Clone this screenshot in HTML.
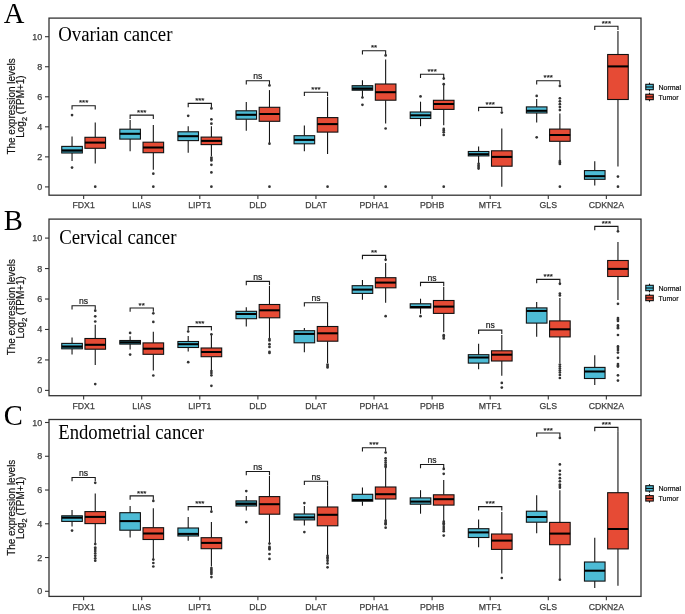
<!DOCTYPE html>
<html><head><meta charset="utf-8"><title>Expression boxplots</title><style>
html,body{margin:0;padding:0;background:#fff;}
svg{display:block;will-change:transform;}
text{font-family:"Liberation Sans",sans-serif;}
.frame{fill:none;stroke:#333;stroke-width:1.3;}
.tk{stroke:#333;stroke-width:1.1;}
.tl{font-size:8.7px;fill:#404040;stroke:#404040;stroke-width:0.25px;}
.yt{font-size:9px;fill:#404040;stroke:#404040;stroke-width:0.25px;}
.w{stroke:#141414;stroke-width:1.1;}
.b{stroke:#111;stroke-width:1.1;}
.m{stroke:#000;stroke-width:2.05;}
.lm{stroke:#000;stroke-width:1;}
.o{fill:#333;}
.br{fill:none;stroke:#1a1a1a;stroke-width:1.1;}
.sig{font-size:8.6px;fill:#1a1a1a;stroke:#1a1a1a;stroke-width:0.2px;}
.sig.st{font-size:8px;}
.title{font-family:"Liberation Serif",serif;font-size:20px;fill:#000;}
.letter{font-family:"Liberation Serif",serif;font-size:28.6px;fill:#000;}
.yl{font-size:10.6px;fill:#111;stroke:#111;stroke-width:0.2px;}
.lg{font-size:7px;fill:#111;stroke:#111;stroke-width:0.2px;}
</style></head>
<body><svg width="685" height="614" viewBox="0 0 685 614">
<rect width="685" height="614" fill="#fff"/>
<rect x="49" y="18.1" width="592" height="177.1" class="frame"/>
<line x1="45" y1="186.9" x2="49" y2="186.9" class="tk"/>
<text x="42.35" y="189.9" class="yt" text-anchor="end">0</text>
<line x1="45" y1="156.86" x2="49" y2="156.86" class="tk"/>
<text x="42.35" y="159.86" class="yt" text-anchor="end">2</text>
<line x1="45" y1="126.82" x2="49" y2="126.82" class="tk"/>
<text x="42.35" y="129.82" class="yt" text-anchor="end">4</text>
<line x1="45" y1="96.78" x2="49" y2="96.78" class="tk"/>
<text x="42.35" y="99.78" class="yt" text-anchor="end">6</text>
<line x1="45" y1="66.74" x2="49" y2="66.74" class="tk"/>
<text x="42.35" y="69.74" class="yt" text-anchor="end">8</text>
<line x1="45" y1="36.7" x2="49" y2="36.7" class="tk"/>
<text x="42.35" y="39.7" class="yt" text-anchor="end">10</text>
<line x1="83.64" y1="195.2" x2="83.64" y2="199.1" class="tk"/>
<text x="83.64" y="208.4" class="tl" text-anchor="middle">FDX1</text>
<line x1="141.72" y1="195.2" x2="141.72" y2="199.1" class="tk"/>
<text x="141.72" y="208.4" class="tl" text-anchor="middle">LIAS</text>
<line x1="199.8" y1="195.2" x2="199.8" y2="199.1" class="tk"/>
<text x="199.8" y="208.4" class="tl" text-anchor="middle">LIPT1</text>
<line x1="257.88" y1="195.2" x2="257.88" y2="199.1" class="tk"/>
<text x="257.88" y="208.4" class="tl" text-anchor="middle">DLD</text>
<line x1="315.96" y1="195.2" x2="315.96" y2="199.1" class="tk"/>
<text x="315.96" y="208.4" class="tl" text-anchor="middle">DLAT</text>
<line x1="374.04" y1="195.2" x2="374.04" y2="199.1" class="tk"/>
<text x="374.04" y="208.4" class="tl" text-anchor="middle">PDHA1</text>
<line x1="432.12" y1="195.2" x2="432.12" y2="199.1" class="tk"/>
<text x="432.12" y="208.4" class="tl" text-anchor="middle">PDHB</text>
<line x1="490.2" y1="195.2" x2="490.2" y2="199.1" class="tk"/>
<text x="490.2" y="208.4" class="tl" text-anchor="middle">MTF1</text>
<line x1="548.28" y1="195.2" x2="548.28" y2="199.1" class="tk"/>
<text x="548.28" y="208.4" class="tl" text-anchor="middle">GLS</text>
<line x1="606.36" y1="195.2" x2="606.36" y2="199.1" class="tk"/>
<text x="606.36" y="208.4" class="tl" text-anchor="middle">CDKN2A</text>
<line x1="72.04" y1="136.4" x2="72.04" y2="146.4" class="w"/>
<line x1="72.04" y1="153" x2="72.04" y2="161" class="w"/>
<rect x="61.74" y="146.4" width="20.6" height="6.6" fill="#4DBBD5" class="b"/>
<rect x="62.24" y="150.4" width="19.6" height="2.1" fill="#1f5d6b" opacity="0.85"/>
<line x1="61.74" y1="150.4" x2="82.34" y2="150.4" class="m"/>
<circle cx="72.04" cy="115.1" r="1.35" class="o"/>
<circle cx="72.04" cy="167.6" r="1.35" class="o"/>
<line x1="95.24" y1="122.4" x2="95.24" y2="137.3" class="w"/>
<line x1="95.24" y1="148.3" x2="95.24" y2="163.6" class="w"/>
<rect x="84.94" y="137.3" width="20.6" height="11" fill="#E64B35" class="b"/>
<line x1="84.94" y1="142.6" x2="105.54" y2="142.6" class="m"/>
<circle cx="95.24" cy="186.7" r="1.35" class="o"/>
<path d="M72.04 109.6V105.8H95.24V109.6" class="br"/>
<text x="83.64" y="105.4" class="sig st" text-anchor="middle">***</text>
<line x1="130.12" y1="120.1" x2="130.12" y2="129.2" class="w"/>
<line x1="130.12" y1="139.1" x2="130.12" y2="151.3" class="w"/>
<rect x="119.82" y="129.2" width="20.6" height="9.9" fill="#4DBBD5" class="b"/>
<line x1="119.82" y1="133.8" x2="140.42" y2="133.8" class="m"/>
<line x1="153.32" y1="125" x2="153.32" y2="142.2" class="w"/>
<line x1="153.32" y1="152.7" x2="153.32" y2="169.7" class="w"/>
<rect x="143.02" y="142.2" width="20.6" height="10.5" fill="#E64B35" class="b"/>
<line x1="143.02" y1="147.5" x2="163.62" y2="147.5" class="m"/>
<circle cx="153.32" cy="173.7" r="1.35" class="o"/>
<circle cx="153.32" cy="186.7" r="1.35" class="o"/>
<path d="M130.12 118.9V115.1H153.32V118.9" class="br"/>
<text x="141.72" y="114.7" class="sig st" text-anchor="middle">***</text>
<line x1="188.2" y1="126.2" x2="188.2" y2="131.8" class="w"/>
<line x1="188.2" y1="140.6" x2="188.2" y2="152.7" class="w"/>
<rect x="177.9" y="131.8" width="20.6" height="8.8" fill="#4DBBD5" class="b"/>
<line x1="177.9" y1="136.2" x2="198.5" y2="136.2" class="m"/>
<circle cx="188.2" cy="115.8" r="1.35" class="o"/>
<line x1="211.4" y1="126.2" x2="211.4" y2="137.1" class="w"/>
<line x1="211.4" y1="144.6" x2="211.4" y2="156.1" class="w"/>
<rect x="201.1" y="137.1" width="20.6" height="7.5" fill="#E64B35" class="b"/>
<line x1="201.1" y1="140.9" x2="221.7" y2="140.9" class="m"/>
<circle cx="211.4" cy="108.4" r="1.35" class="o"/>
<circle cx="211.4" cy="119.3" r="1.35" class="o"/>
<circle cx="211.4" cy="123.7" r="1.35" class="o"/>
<circle cx="211.4" cy="157.5" r="1.35" class="o"/>
<circle cx="211.4" cy="159" r="1.35" class="o"/>
<circle cx="211.4" cy="160.4" r="1.35" class="o"/>
<circle cx="211.4" cy="164.8" r="1.35" class="o"/>
<circle cx="211.4" cy="172.4" r="1.35" class="o"/>
<circle cx="211.4" cy="186.7" r="1.35" class="o"/>
<path d="M188.2 107.2V103.4H211.4V107.2" class="br"/>
<text x="199.8" y="103" class="sig st" text-anchor="middle">***</text>
<line x1="246.28" y1="102" x2="246.28" y2="110.8" class="w"/>
<line x1="246.28" y1="119.2" x2="246.28" y2="130.8" class="w"/>
<rect x="235.98" y="110.8" width="20.6" height="8.4" fill="#4DBBD5" class="b"/>
<line x1="235.98" y1="114.8" x2="256.58" y2="114.8" class="m"/>
<line x1="269.48" y1="90.1" x2="269.48" y2="107.3" class="w"/>
<line x1="269.48" y1="121.3" x2="269.48" y2="143" class="w"/>
<rect x="259.18" y="107.3" width="20.6" height="14" fill="#E64B35" class="b"/>
<line x1="259.18" y1="114" x2="279.78" y2="114" class="m"/>
<circle cx="269.48" cy="85.4" r="1.35" class="o"/>
<circle cx="269.48" cy="143.7" r="1.35" class="o"/>
<circle cx="269.48" cy="186.7" r="1.35" class="o"/>
<path d="M246.28 84.5V80.7H269.48V84.5" class="br"/>
<text x="257.88" y="78.9" class="sig" text-anchor="middle">ns</text>
<line x1="304.36" y1="125.4" x2="304.36" y2="135.7" class="w"/>
<line x1="304.36" y1="143.8" x2="304.36" y2="151.3" class="w"/>
<rect x="294.06" y="135.7" width="20.6" height="8.1" fill="#4DBBD5" class="b"/>
<line x1="294.06" y1="139.9" x2="314.66" y2="139.9" class="m"/>
<line x1="327.56" y1="96.8" x2="327.56" y2="117.6" class="w"/>
<line x1="327.56" y1="132.1" x2="327.56" y2="153.9" class="w"/>
<rect x="317.26" y="117.6" width="20.6" height="14.5" fill="#E64B35" class="b"/>
<line x1="317.26" y1="124.1" x2="337.86" y2="124.1" class="m"/>
<circle cx="327.56" cy="186.7" r="1.35" class="o"/>
<path d="M304.36 96V92.2H327.56V96" class="br"/>
<text x="315.96" y="91.8" class="sig st" text-anchor="middle">***</text>
<line x1="362.44" y1="80.2" x2="362.44" y2="85.7" class="w"/>
<line x1="362.44" y1="90.2" x2="362.44" y2="97" class="w"/>
<rect x="352.14" y="85.7" width="20.6" height="4.5" fill="#4DBBD5" class="b"/>
<rect x="352.64" y="86.2" width="19.6" height="2.5" fill="#1f5d6b" opacity="0.75"/>
<rect x="352.64" y="88.7" width="19.6" height="1" fill="#1f5d6b" opacity="0.85"/>
<line x1="352.14" y1="88.7" x2="372.74" y2="88.7" class="m"/>
<circle cx="362.44" cy="97.5" r="1.35" class="o"/>
<circle cx="362.44" cy="104.8" r="1.35" class="o"/>
<line x1="385.64" y1="59.4" x2="385.64" y2="84" class="w"/>
<line x1="385.64" y1="100.2" x2="385.64" y2="123.5" class="w"/>
<rect x="375.34" y="84" width="20.6" height="16.2" fill="#E64B35" class="b"/>
<line x1="375.34" y1="92.2" x2="395.94" y2="92.2" class="m"/>
<circle cx="385.64" cy="55.4" r="1.35" class="o"/>
<circle cx="385.64" cy="128.5" r="1.35" class="o"/>
<circle cx="385.64" cy="186.7" r="1.35" class="o"/>
<path d="M362.44 54.5V50.7H385.64V54.5" class="br"/>
<text x="374.04" y="50.3" class="sig st" text-anchor="middle">**</text>
<line x1="420.52" y1="101.7" x2="420.52" y2="112" class="w"/>
<line x1="420.52" y1="118.5" x2="420.52" y2="126.2" class="w"/>
<rect x="410.22" y="112" width="20.6" height="6.5" fill="#4DBBD5" class="b"/>
<line x1="410.22" y1="115.3" x2="430.82" y2="115.3" class="m"/>
<circle cx="420.52" cy="96.4" r="1.35" class="o"/>
<line x1="443.72" y1="84.2" x2="443.72" y2="100.3" class="w"/>
<line x1="443.72" y1="109.4" x2="443.72" y2="125.2" class="w"/>
<rect x="433.42" y="100.3" width="20.6" height="9.1" fill="#E64B35" class="b"/>
<line x1="433.42" y1="104" x2="454.02" y2="104" class="m"/>
<circle cx="443.72" cy="78.6" r="1.35" class="o"/>
<circle cx="443.72" cy="84.2" r="1.35" class="o"/>
<circle cx="443.72" cy="128.9" r="1.35" class="o"/>
<circle cx="443.72" cy="130.5" r="1.35" class="o"/>
<circle cx="443.72" cy="132.3" r="1.35" class="o"/>
<circle cx="443.72" cy="135" r="1.35" class="o"/>
<circle cx="443.72" cy="186.7" r="1.35" class="o"/>
<path d="M420.52 78V74.2H443.72V78" class="br"/>
<text x="432.12" y="73.8" class="sig st" text-anchor="middle">***</text>
<line x1="478.6" y1="146.6" x2="478.6" y2="151.5" class="w"/>
<line x1="478.6" y1="155.9" x2="478.6" y2="163" class="w"/>
<rect x="468.3" y="151.5" width="20.6" height="4.4" fill="#4DBBD5" class="b"/>
<rect x="468.8" y="154.2" width="19.6" height="1.2" fill="#1f5d6b" opacity="0.85"/>
<line x1="468.3" y1="154.2" x2="488.9" y2="154.2" class="m"/>
<circle cx="478.6" cy="163.8" r="1.35" class="o"/>
<circle cx="478.6" cy="165.5" r="1.35" class="o"/>
<circle cx="478.6" cy="167" r="1.35" class="o"/>
<circle cx="478.6" cy="168.6" r="1.35" class="o"/>
<line x1="501.8" y1="128.4" x2="501.8" y2="150.8" class="w"/>
<line x1="501.8" y1="166.2" x2="501.8" y2="186.7" class="w"/>
<rect x="491.5" y="150.8" width="20.6" height="15.4" fill="#E64B35" class="b"/>
<line x1="491.5" y1="156.9" x2="512.1" y2="156.9" class="m"/>
<circle cx="501.8" cy="112.6" r="1.35" class="o"/>
<path d="M478.6 111.2V107.4H501.8V111.2" class="br"/>
<text x="490.2" y="107" class="sig st" text-anchor="middle">***</text>
<line x1="536.68" y1="99.1" x2="536.68" y2="106.9" class="w"/>
<line x1="536.68" y1="113" x2="536.68" y2="122.4" class="w"/>
<rect x="526.38" y="106.9" width="20.6" height="6.1" fill="#4DBBD5" class="b"/>
<line x1="526.38" y1="110.8" x2="546.98" y2="110.8" class="m"/>
<circle cx="536.68" cy="95.9" r="1.35" class="o"/>
<circle cx="536.68" cy="137.3" r="1.35" class="o"/>
<line x1="559.88" y1="113.4" x2="559.88" y2="129.1" class="w"/>
<line x1="559.88" y1="141.3" x2="559.88" y2="159.9" class="w"/>
<rect x="549.58" y="129.1" width="20.6" height="12.2" fill="#E64B35" class="b"/>
<line x1="549.58" y1="135" x2="570.18" y2="135" class="m"/>
<circle cx="559.88" cy="85.9" r="1.35" class="o"/>
<circle cx="559.88" cy="98.3" r="1.35" class="o"/>
<circle cx="559.88" cy="101.3" r="1.35" class="o"/>
<circle cx="559.88" cy="104.2" r="1.35" class="o"/>
<circle cx="559.88" cy="107.1" r="1.35" class="o"/>
<circle cx="559.88" cy="110.1" r="1.35" class="o"/>
<circle cx="559.88" cy="161" r="1.35" class="o"/>
<circle cx="559.88" cy="162.5" r="1.35" class="o"/>
<circle cx="559.88" cy="164" r="1.35" class="o"/>
<circle cx="559.88" cy="186.7" r="1.35" class="o"/>
<path d="M536.68 84.5V80.7H559.88V84.5" class="br"/>
<text x="548.28" y="80.3" class="sig st" text-anchor="middle">***</text>
<line x1="594.76" y1="161.3" x2="594.76" y2="170.6" class="w"/>
<line x1="594.76" y1="179.3" x2="594.76" y2="185.6" class="w"/>
<rect x="584.46" y="170.6" width="20.6" height="8.7" fill="#4DBBD5" class="b"/>
<line x1="584.46" y1="176.2" x2="605.06" y2="176.2" class="m"/>
<line x1="617.96" y1="31.1" x2="617.96" y2="54.5" class="w"/>
<line x1="617.96" y1="99.5" x2="617.96" y2="166.6" class="w"/>
<rect x="607.66" y="54.5" width="20.6" height="45" fill="#E64B35" class="b"/>
<line x1="607.66" y1="66.4" x2="628.26" y2="66.4" class="m"/>
<circle cx="617.96" cy="176.6" r="1.35" class="o"/>
<circle cx="617.96" cy="186.7" r="1.35" class="o"/>
<path d="M594.76 30.1V26.3H617.96V30.1" class="br"/>
<text x="606.36" y="25.9" class="sig st" text-anchor="middle">***</text>
<text x="58.18" y="40.6" class="title" textLength="114.3" lengthAdjust="spacingAndGlyphs">Ovarian cancer</text>
<text x="3.8" y="22.8" class="letter">A</text>
<text transform="translate(14.5 106.45) rotate(-90) scale(0.94 1)" class="yl" text-anchor="middle">The expression levels</text>
<text transform="translate(23.6 137.7) rotate(-90) scale(0.94 1)" class="yl">Log<tspan font-size="7.8" dy="3.0">2</tspan><tspan dy="-3.0"> (TPM+1)</tspan></text>
<line x1="649.5" y1="82.7" x2="649.5" y2="91.3" class="w"/>
<rect x="645.8" y="84.3" width="7.5" height="5.4" fill="#4DBBD5" class="b"/>
<line x1="645.8" y1="87" x2="653.3" y2="87" class="lm"/>
<text x="658.5" y="89.7" class="lg">Normal</text>
<line x1="649.5" y1="92.65" x2="649.5" y2="101.25" class="w"/>
<rect x="645.8" y="94.25" width="7.5" height="5.4" fill="#E64B35" class="b"/>
<line x1="645.8" y1="96.95" x2="653.3" y2="96.95" class="lm"/>
<text x="658.5" y="99.65" class="lg">Tumor</text>
<rect x="49" y="219.1" width="592" height="176.6" class="frame"/>
<line x1="45" y1="390.4" x2="49" y2="390.4" class="tk"/>
<text x="42.35" y="393.4" class="yt" text-anchor="end">0</text>
<line x1="45" y1="359.94" x2="49" y2="359.94" class="tk"/>
<text x="42.35" y="362.94" class="yt" text-anchor="end">2</text>
<line x1="45" y1="329.48" x2="49" y2="329.48" class="tk"/>
<text x="42.35" y="332.48" class="yt" text-anchor="end">4</text>
<line x1="45" y1="299.02" x2="49" y2="299.02" class="tk"/>
<text x="42.35" y="302.02" class="yt" text-anchor="end">6</text>
<line x1="45" y1="268.56" x2="49" y2="268.56" class="tk"/>
<text x="42.35" y="271.56" class="yt" text-anchor="end">8</text>
<line x1="45" y1="238.1" x2="49" y2="238.1" class="tk"/>
<text x="42.35" y="241.1" class="yt" text-anchor="end">10</text>
<line x1="83.64" y1="395.7" x2="83.64" y2="399.6" class="tk"/>
<text x="83.64" y="408.9" class="tl" text-anchor="middle">FDX1</text>
<line x1="141.72" y1="395.7" x2="141.72" y2="399.6" class="tk"/>
<text x="141.72" y="408.9" class="tl" text-anchor="middle">LIAS</text>
<line x1="199.8" y1="395.7" x2="199.8" y2="399.6" class="tk"/>
<text x="199.8" y="408.9" class="tl" text-anchor="middle">LIPT1</text>
<line x1="257.88" y1="395.7" x2="257.88" y2="399.6" class="tk"/>
<text x="257.88" y="408.9" class="tl" text-anchor="middle">DLD</text>
<line x1="315.96" y1="395.7" x2="315.96" y2="399.6" class="tk"/>
<text x="315.96" y="408.9" class="tl" text-anchor="middle">DLAT</text>
<line x1="374.04" y1="395.7" x2="374.04" y2="399.6" class="tk"/>
<text x="374.04" y="408.9" class="tl" text-anchor="middle">PDHA1</text>
<line x1="432.12" y1="395.7" x2="432.12" y2="399.6" class="tk"/>
<text x="432.12" y="408.9" class="tl" text-anchor="middle">PDHB</text>
<line x1="490.2" y1="395.7" x2="490.2" y2="399.6" class="tk"/>
<text x="490.2" y="408.9" class="tl" text-anchor="middle">MTF1</text>
<line x1="548.28" y1="395.7" x2="548.28" y2="399.6" class="tk"/>
<text x="548.28" y="408.9" class="tl" text-anchor="middle">GLS</text>
<line x1="606.36" y1="395.7" x2="606.36" y2="399.6" class="tk"/>
<text x="606.36" y="408.9" class="tl" text-anchor="middle">CDKN2A</text>
<line x1="72.04" y1="337.4" x2="72.04" y2="343.4" class="w"/>
<line x1="72.04" y1="348.8" x2="72.04" y2="354.6" class="w"/>
<rect x="61.74" y="343.4" width="20.6" height="5.4" fill="#4DBBD5" class="b"/>
<rect x="62.24" y="346.5" width="19.6" height="1.8" fill="#1f5d6b" opacity="0.85"/>
<line x1="61.74" y1="346.5" x2="82.34" y2="346.5" class="m"/>
<line x1="95.24" y1="324.7" x2="95.24" y2="338.5" class="w"/>
<line x1="95.24" y1="349.2" x2="95.24" y2="365" class="w"/>
<rect x="84.94" y="338.5" width="20.6" height="10.7" fill="#E64B35" class="b"/>
<line x1="84.94" y1="344.8" x2="105.54" y2="344.8" class="m"/>
<circle cx="95.24" cy="310.7" r="1.35" class="o"/>
<circle cx="95.24" cy="316.3" r="1.35" class="o"/>
<circle cx="95.24" cy="321.5" r="1.35" class="o"/>
<circle cx="95.24" cy="384.1" r="1.35" class="o"/>
<path d="M72.04 309.6V305.8H95.24V309.6" class="br"/>
<text x="83.64" y="304" class="sig" text-anchor="middle">ns</text>
<line x1="130.12" y1="336.3" x2="130.12" y2="340.5" class="w"/>
<line x1="130.12" y1="344.1" x2="130.12" y2="349.5" class="w"/>
<rect x="119.82" y="340.5" width="20.6" height="3.6" fill="#4DBBD5" class="b"/>
<rect x="120.32" y="341" width="19.6" height="1.4" fill="#1f5d6b" opacity="0.75"/>
<rect x="120.32" y="342.4" width="19.6" height="1.2" fill="#1f5d6b" opacity="0.85"/>
<line x1="119.82" y1="342.4" x2="140.42" y2="342.4" class="m"/>
<circle cx="130.12" cy="332.9" r="1.35" class="o"/>
<circle cx="130.12" cy="354.6" r="1.35" class="o"/>
<line x1="153.32" y1="331.7" x2="153.32" y2="342.9" class="w"/>
<line x1="153.32" y1="354.3" x2="153.32" y2="370.6" class="w"/>
<rect x="143.02" y="342.9" width="20.6" height="11.4" fill="#E64B35" class="b"/>
<line x1="143.02" y1="348.7" x2="163.62" y2="348.7" class="m"/>
<circle cx="153.32" cy="313.3" r="1.35" class="o"/>
<circle cx="153.32" cy="321.9" r="1.35" class="o"/>
<circle cx="153.32" cy="375.5" r="1.35" class="o"/>
<path d="M130.12 311.8V308H153.32V311.8" class="br"/>
<text x="141.72" y="307.6" class="sig st" text-anchor="middle">**</text>
<line x1="188.2" y1="336" x2="188.2" y2="341.5" class="w"/>
<line x1="188.2" y1="347.5" x2="188.2" y2="351.6" class="w"/>
<rect x="177.9" y="341.5" width="20.6" height="6" fill="#4DBBD5" class="b"/>
<line x1="177.9" y1="344.2" x2="198.5" y2="344.2" class="m"/>
<circle cx="188.2" cy="331.5" r="1.35" class="o"/>
<circle cx="188.2" cy="362.2" r="1.35" class="o"/>
<line x1="211.4" y1="335" x2="211.4" y2="348" class="w"/>
<line x1="211.4" y1="356.7" x2="211.4" y2="370.1" class="w"/>
<rect x="201.1" y="348" width="20.6" height="8.7" fill="#E64B35" class="b"/>
<line x1="201.1" y1="352" x2="221.7" y2="352" class="m"/>
<circle cx="211.4" cy="334.3" r="1.35" class="o"/>
<circle cx="211.4" cy="371" r="1.35" class="o"/>
<circle cx="211.4" cy="373" r="1.35" class="o"/>
<circle cx="211.4" cy="375.3" r="1.35" class="o"/>
<circle cx="211.4" cy="385.8" r="1.35" class="o"/>
<path d="M188.2 330.4V326.6H211.4V330.4" class="br"/>
<text x="199.8" y="326.2" class="sig st" text-anchor="middle">***</text>
<line x1="246.28" y1="307.2" x2="246.28" y2="311.3" class="w"/>
<line x1="246.28" y1="318.7" x2="246.28" y2="326.6" class="w"/>
<rect x="235.98" y="311.3" width="20.6" height="7.4" fill="#4DBBD5" class="b"/>
<line x1="235.98" y1="314" x2="256.58" y2="314" class="m"/>
<line x1="269.48" y1="285.9" x2="269.48" y2="304.5" class="w"/>
<line x1="269.48" y1="317.8" x2="269.48" y2="338.8" class="w"/>
<rect x="259.18" y="304.5" width="20.6" height="13.3" fill="#E64B35" class="b"/>
<line x1="259.18" y1="310.3" x2="279.78" y2="310.3" class="m"/>
<circle cx="269.48" cy="339" r="1.35" class="o"/>
<circle cx="269.48" cy="340.5" r="1.35" class="o"/>
<circle cx="269.48" cy="344.2" r="1.35" class="o"/>
<circle cx="269.48" cy="346.9" r="1.35" class="o"/>
<circle cx="269.48" cy="351.8" r="1.35" class="o"/>
<circle cx="269.48" cy="353" r="1.35" class="o"/>
<path d="M246.28 285.2V281.4H269.48V285.2" class="br"/>
<text x="257.88" y="279.6" class="sig" text-anchor="middle">ns</text>
<line x1="304.36" y1="328.1" x2="304.36" y2="330.7" class="w"/>
<line x1="304.36" y1="342.8" x2="304.36" y2="352.3" class="w"/>
<rect x="294.06" y="330.7" width="20.6" height="12.1" fill="#4DBBD5" class="b"/>
<line x1="294.06" y1="333.9" x2="314.66" y2="333.9" class="m"/>
<line x1="327.56" y1="306.1" x2="327.56" y2="326.5" class="w"/>
<line x1="327.56" y1="341.2" x2="327.56" y2="363.1" class="w"/>
<rect x="317.26" y="326.5" width="20.6" height="14.7" fill="#E64B35" class="b"/>
<line x1="317.26" y1="333.3" x2="337.86" y2="333.3" class="m"/>
<circle cx="327.56" cy="364.5" r="1.35" class="o"/>
<circle cx="327.56" cy="366" r="1.35" class="o"/>
<circle cx="327.56" cy="367.4" r="1.35" class="o"/>
<path d="M304.36 306.5V302.7H327.56V306.5" class="br"/>
<text x="315.96" y="300.9" class="sig" text-anchor="middle">ns</text>
<line x1="362.44" y1="279.9" x2="362.44" y2="285.7" class="w"/>
<line x1="362.44" y1="293.4" x2="362.44" y2="299.7" class="w"/>
<rect x="352.14" y="285.7" width="20.6" height="7.7" fill="#4DBBD5" class="b"/>
<line x1="352.14" y1="289.6" x2="372.74" y2="289.6" class="m"/>
<line x1="385.64" y1="262.9" x2="385.64" y2="277.7" class="w"/>
<line x1="385.64" y1="287.8" x2="385.64" y2="302.7" class="w"/>
<rect x="375.34" y="277.7" width="20.6" height="10.1" fill="#E64B35" class="b"/>
<line x1="375.34" y1="282.6" x2="395.94" y2="282.6" class="m"/>
<circle cx="385.64" cy="259.8" r="1.35" class="o"/>
<circle cx="385.64" cy="316.2" r="1.35" class="o"/>
<path d="M362.44 259.2V255.4H385.64V259.2" class="br"/>
<text x="374.04" y="255" class="sig st" text-anchor="middle">**</text>
<line x1="420.52" y1="298.7" x2="420.52" y2="303.8" class="w"/>
<line x1="420.52" y1="308" x2="420.52" y2="313.8" class="w"/>
<rect x="410.22" y="303.8" width="20.6" height="4.2" fill="#4DBBD5" class="b"/>
<line x1="410.22" y1="307" x2="430.82" y2="307" class="m"/>
<circle cx="420.52" cy="316.2" r="1.35" class="o"/>
<line x1="443.72" y1="287.1" x2="443.72" y2="300.5" class="w"/>
<line x1="443.72" y1="313.4" x2="443.72" y2="332.3" class="w"/>
<rect x="433.42" y="300.5" width="20.6" height="12.9" fill="#E64B35" class="b"/>
<line x1="433.42" y1="306.6" x2="454.02" y2="306.6" class="m"/>
<circle cx="443.72" cy="335.2" r="1.35" class="o"/>
<circle cx="443.72" cy="336.8" r="1.35" class="o"/>
<circle cx="443.72" cy="338.5" r="1.35" class="o"/>
<path d="M420.52 286.2V282.4H443.72V286.2" class="br"/>
<text x="432.12" y="280.6" class="sig" text-anchor="middle">ns</text>
<line x1="478.6" y1="343.8" x2="478.6" y2="354.7" class="w"/>
<line x1="478.6" y1="363.1" x2="478.6" y2="369.2" class="w"/>
<rect x="468.3" y="354.7" width="20.6" height="8.4" fill="#4DBBD5" class="b"/>
<line x1="468.3" y1="357.5" x2="488.9" y2="357.5" class="m"/>
<line x1="501.8" y1="335" x2="501.8" y2="350.8" class="w"/>
<line x1="501.8" y1="361" x2="501.8" y2="375.7" class="w"/>
<rect x="491.5" y="350.8" width="20.6" height="10.2" fill="#E64B35" class="b"/>
<line x1="491.5" y1="354.7" x2="512.1" y2="354.7" class="m"/>
<circle cx="501.8" cy="382.9" r="1.35" class="o"/>
<circle cx="501.8" cy="387.6" r="1.35" class="o"/>
<path d="M478.6 333.9V330.1H501.8V333.9" class="br"/>
<text x="490.2" y="328.3" class="sig" text-anchor="middle">ns</text>
<line x1="536.68" y1="302.1" x2="536.68" y2="307.9" class="w"/>
<line x1="536.68" y1="323.1" x2="536.68" y2="336.8" class="w"/>
<rect x="526.38" y="307.9" width="20.6" height="15.2" fill="#4DBBD5" class="b"/>
<line x1="526.38" y1="310.9" x2="546.98" y2="310.9" class="m"/>
<line x1="559.88" y1="297.9" x2="559.88" y2="320.9" class="w"/>
<line x1="559.88" y1="336.9" x2="559.88" y2="363.1" class="w"/>
<rect x="549.58" y="320.9" width="20.6" height="16" fill="#E64B35" class="b"/>
<line x1="549.58" y1="329.3" x2="570.18" y2="329.3" class="m"/>
<circle cx="559.88" cy="283.8" r="1.35" class="o"/>
<circle cx="559.88" cy="293.5" r="1.35" class="o"/>
<circle cx="559.88" cy="295.4" r="1.35" class="o"/>
<circle cx="559.88" cy="364.5" r="1.35" class="o"/>
<circle cx="559.88" cy="366.5" r="1.35" class="o"/>
<circle cx="559.88" cy="368.5" r="1.35" class="o"/>
<circle cx="559.88" cy="370.5" r="1.35" class="o"/>
<circle cx="559.88" cy="372.5" r="1.35" class="o"/>
<circle cx="559.88" cy="375" r="1.35" class="o"/>
<circle cx="559.88" cy="378" r="1.35" class="o"/>
<path d="M536.68 283.2V279.4H559.88V283.2" class="br"/>
<text x="548.28" y="279" class="sig st" text-anchor="middle">***</text>
<line x1="594.76" y1="355.2" x2="594.76" y2="367.4" class="w"/>
<line x1="594.76" y1="378.5" x2="594.76" y2="385" class="w"/>
<rect x="584.46" y="367.4" width="20.6" height="11.1" fill="#4DBBD5" class="b"/>
<line x1="584.46" y1="371.5" x2="605.06" y2="371.5" class="m"/>
<line x1="617.96" y1="242.1" x2="617.96" y2="260.5" class="w"/>
<line x1="617.96" y1="276.5" x2="617.96" y2="299.9" class="w"/>
<rect x="607.66" y="260.5" width="20.6" height="16" fill="#E64B35" class="b"/>
<line x1="607.66" y1="268.9" x2="628.26" y2="268.9" class="m"/>
<circle cx="617.96" cy="231.3" r="1.35" class="o"/>
<circle cx="617.96" cy="303.8" r="1.35" class="o"/>
<circle cx="617.96" cy="318" r="1.35" class="o"/>
<circle cx="617.96" cy="319.5" r="1.35" class="o"/>
<circle cx="617.96" cy="321" r="1.35" class="o"/>
<circle cx="617.96" cy="325.4" r="1.35" class="o"/>
<circle cx="617.96" cy="327" r="1.35" class="o"/>
<circle cx="617.96" cy="328.2" r="1.35" class="o"/>
<circle cx="617.96" cy="335" r="1.35" class="o"/>
<circle cx="617.96" cy="346.4" r="1.35" class="o"/>
<circle cx="617.96" cy="348" r="1.35" class="o"/>
<circle cx="617.96" cy="350" r="1.35" class="o"/>
<circle cx="617.96" cy="352.6" r="1.35" class="o"/>
<circle cx="617.96" cy="357.8" r="1.35" class="o"/>
<circle cx="617.96" cy="364" r="1.35" class="o"/>
<circle cx="617.96" cy="365.5" r="1.35" class="o"/>
<circle cx="617.96" cy="366.6" r="1.35" class="o"/>
<circle cx="617.96" cy="375.3" r="1.35" class="o"/>
<circle cx="617.96" cy="380.6" r="1.35" class="o"/>
<path d="M594.76 230.2V226.4H617.96V230.2" class="br"/>
<text x="606.36" y="226" class="sig st" text-anchor="middle">***</text>
<text x="59.18" y="243.6" class="title" textLength="117.3" lengthAdjust="spacingAndGlyphs">Cervical cancer</text>
<text x="3.8" y="229.8" class="letter">B</text>
<text transform="translate(14.5 307.2) rotate(-90) scale(0.94 1)" class="yl" text-anchor="middle">The expression levels</text>
<text transform="translate(23.6 338.45) rotate(-90) scale(0.94 1)" class="yl">Log<tspan font-size="7.8" dy="3.0">2</tspan><tspan dy="-3.0"> (TPM+1)</tspan></text>
<line x1="649.5" y1="283.7" x2="649.5" y2="292.3" class="w"/>
<rect x="645.8" y="285.3" width="7.5" height="5.4" fill="#4DBBD5" class="b"/>
<line x1="645.8" y1="288" x2="653.3" y2="288" class="lm"/>
<text x="658.5" y="290.7" class="lg">Normal</text>
<line x1="649.5" y1="293.65" x2="649.5" y2="302.25" class="w"/>
<rect x="645.8" y="295.25" width="7.5" height="5.4" fill="#E64B35" class="b"/>
<line x1="645.8" y1="297.95" x2="653.3" y2="297.95" class="lm"/>
<text x="658.5" y="300.65" class="lg">Tumor</text>
<rect x="49" y="419.5" width="592" height="176.9" class="frame"/>
<line x1="45" y1="591.3" x2="49" y2="591.3" class="tk"/>
<text x="42.35" y="594.3" class="yt" text-anchor="end">0</text>
<line x1="45" y1="557.54" x2="49" y2="557.54" class="tk"/>
<text x="42.35" y="560.54" class="yt" text-anchor="end">2</text>
<line x1="45" y1="523.78" x2="49" y2="523.78" class="tk"/>
<text x="42.35" y="526.78" class="yt" text-anchor="end">4</text>
<line x1="45" y1="490.02" x2="49" y2="490.02" class="tk"/>
<text x="42.35" y="493.02" class="yt" text-anchor="end">6</text>
<line x1="45" y1="456.26" x2="49" y2="456.26" class="tk"/>
<text x="42.35" y="459.26" class="yt" text-anchor="end">8</text>
<line x1="45" y1="422.5" x2="49" y2="422.5" class="tk"/>
<text x="42.35" y="425.5" class="yt" text-anchor="end">10</text>
<line x1="83.64" y1="596.4" x2="83.64" y2="600.3" class="tk"/>
<text x="83.64" y="609.6" class="tl" text-anchor="middle">FDX1</text>
<line x1="141.72" y1="596.4" x2="141.72" y2="600.3" class="tk"/>
<text x="141.72" y="609.6" class="tl" text-anchor="middle">LIAS</text>
<line x1="199.8" y1="596.4" x2="199.8" y2="600.3" class="tk"/>
<text x="199.8" y="609.6" class="tl" text-anchor="middle">LIPT1</text>
<line x1="257.88" y1="596.4" x2="257.88" y2="600.3" class="tk"/>
<text x="257.88" y="609.6" class="tl" text-anchor="middle">DLD</text>
<line x1="315.96" y1="596.4" x2="315.96" y2="600.3" class="tk"/>
<text x="315.96" y="609.6" class="tl" text-anchor="middle">DLAT</text>
<line x1="374.04" y1="596.4" x2="374.04" y2="600.3" class="tk"/>
<text x="374.04" y="609.6" class="tl" text-anchor="middle">PDHA1</text>
<line x1="432.12" y1="596.4" x2="432.12" y2="600.3" class="tk"/>
<text x="432.12" y="609.6" class="tl" text-anchor="middle">PDHB</text>
<line x1="490.2" y1="596.4" x2="490.2" y2="600.3" class="tk"/>
<text x="490.2" y="609.6" class="tl" text-anchor="middle">MTF1</text>
<line x1="548.28" y1="596.4" x2="548.28" y2="600.3" class="tk"/>
<text x="548.28" y="609.6" class="tl" text-anchor="middle">GLS</text>
<line x1="606.36" y1="596.4" x2="606.36" y2="600.3" class="tk"/>
<text x="606.36" y="609.6" class="tl" text-anchor="middle">CDKN2A</text>
<line x1="72.04" y1="509.9" x2="72.04" y2="515.8" class="w"/>
<line x1="72.04" y1="521.4" x2="72.04" y2="526.5" class="w"/>
<rect x="61.74" y="515.8" width="20.6" height="5.6" fill="#4DBBD5" class="b"/>
<rect x="62.24" y="516.3" width="19.6" height="1.4" fill="#1f5d6b" opacity="0.75"/>
<line x1="61.74" y1="517.7" x2="82.34" y2="517.7" class="m"/>
<circle cx="72.04" cy="530.6" r="1.35" class="o"/>
<line x1="95.24" y1="493.6" x2="95.24" y2="511.6" class="w"/>
<line x1="95.24" y1="523.6" x2="95.24" y2="543.6" class="w"/>
<rect x="84.94" y="511.6" width="20.6" height="12" fill="#E64B35" class="b"/>
<line x1="84.94" y1="516.9" x2="105.54" y2="516.9" class="m"/>
<circle cx="95.24" cy="482.8" r="1.35" class="o"/>
<circle cx="95.24" cy="544.1" r="1.35" class="o"/>
<circle cx="95.24" cy="547.5" r="1.35" class="o"/>
<circle cx="95.24" cy="549" r="1.35" class="o"/>
<circle cx="95.24" cy="551" r="1.35" class="o"/>
<circle cx="95.24" cy="553.4" r="1.35" class="o"/>
<circle cx="95.24" cy="555.8" r="1.35" class="o"/>
<circle cx="95.24" cy="558.3" r="1.35" class="o"/>
<circle cx="95.24" cy="560.7" r="1.35" class="o"/>
<path d="M72.04 481.3V477.5H95.24V481.3" class="br"/>
<text x="83.64" y="475.7" class="sig" text-anchor="middle">ns</text>
<line x1="130.12" y1="506.1" x2="130.12" y2="512.7" class="w"/>
<line x1="130.12" y1="530.2" x2="130.12" y2="537.5" class="w"/>
<rect x="119.82" y="512.7" width="20.6" height="17.5" fill="#4DBBD5" class="b"/>
<line x1="119.82" y1="521.1" x2="140.42" y2="521.1" class="m"/>
<line x1="153.32" y1="508.2" x2="153.32" y2="527.7" class="w"/>
<line x1="153.32" y1="539.5" x2="153.32" y2="559" class="w"/>
<rect x="143.02" y="527.7" width="20.6" height="11.8" fill="#E64B35" class="b"/>
<line x1="143.02" y1="533.5" x2="163.62" y2="533.5" class="m"/>
<circle cx="153.32" cy="500.9" r="1.35" class="o"/>
<circle cx="153.32" cy="559.6" r="1.35" class="o"/>
<circle cx="153.32" cy="563" r="1.35" class="o"/>
<circle cx="153.32" cy="566.5" r="1.35" class="o"/>
<path d="M130.12 499.7V495.9H153.32V499.7" class="br"/>
<text x="141.72" y="495.5" class="sig st" text-anchor="middle">***</text>
<line x1="188.2" y1="517.1" x2="188.2" y2="528" class="w"/>
<line x1="188.2" y1="536" x2="188.2" y2="540.8" class="w"/>
<rect x="177.9" y="528" width="20.6" height="8" fill="#4DBBD5" class="b"/>
<line x1="177.9" y1="533.9" x2="198.5" y2="533.9" class="m"/>
<line x1="211.4" y1="522.1" x2="211.4" y2="537.7" class="w"/>
<line x1="211.4" y1="548.7" x2="211.4" y2="566.6" class="w"/>
<rect x="201.1" y="537.7" width="20.6" height="11" fill="#E64B35" class="b"/>
<line x1="201.1" y1="542.9" x2="221.7" y2="542.9" class="m"/>
<circle cx="211.4" cy="511.7" r="1.35" class="o"/>
<circle cx="211.4" cy="568" r="1.35" class="o"/>
<circle cx="211.4" cy="569.5" r="1.35" class="o"/>
<circle cx="211.4" cy="571" r="1.35" class="o"/>
<circle cx="211.4" cy="572.5" r="1.35" class="o"/>
<circle cx="211.4" cy="574" r="1.35" class="o"/>
<circle cx="211.4" cy="577.1" r="1.35" class="o"/>
<path d="M188.2 510.4V506.6H211.4V510.4" class="br"/>
<text x="199.8" y="506.2" class="sig st" text-anchor="middle">***</text>
<line x1="246.28" y1="496.1" x2="246.28" y2="500.9" class="w"/>
<line x1="246.28" y1="506" x2="246.28" y2="510.4" class="w"/>
<rect x="235.98" y="500.9" width="20.6" height="5.1" fill="#4DBBD5" class="b"/>
<rect x="236.48" y="501.4" width="19.6" height="2.5" fill="#1f5d6b" opacity="0.75"/>
<line x1="235.98" y1="503.9" x2="256.58" y2="503.9" class="m"/>
<circle cx="246.28" cy="491.1" r="1.35" class="o"/>
<circle cx="246.28" cy="522.1" r="1.35" class="o"/>
<line x1="269.48" y1="475.9" x2="269.48" y2="496.6" class="w"/>
<line x1="269.48" y1="514.2" x2="269.48" y2="543" class="w"/>
<rect x="259.18" y="496.6" width="20.6" height="17.6" fill="#E64B35" class="b"/>
<line x1="259.18" y1="504.2" x2="279.78" y2="504.2" class="m"/>
<circle cx="269.48" cy="543.6" r="1.35" class="o"/>
<circle cx="269.48" cy="546.9" r="1.35" class="o"/>
<circle cx="269.48" cy="548.2" r="1.35" class="o"/>
<circle cx="269.48" cy="549.5" r="1.35" class="o"/>
<circle cx="269.48" cy="554" r="1.35" class="o"/>
<circle cx="269.48" cy="558.9" r="1.35" class="o"/>
<path d="M246.28 475.3V471.5H269.48V475.3" class="br"/>
<text x="257.88" y="469.7" class="sig" text-anchor="middle">ns</text>
<line x1="304.36" y1="505.9" x2="304.36" y2="514" class="w"/>
<line x1="304.36" y1="519.9" x2="304.36" y2="525.6" class="w"/>
<rect x="294.06" y="514" width="20.6" height="5.9" fill="#4DBBD5" class="b"/>
<line x1="294.06" y1="517.4" x2="314.66" y2="517.4" class="m"/>
<circle cx="304.36" cy="503.1" r="1.35" class="o"/>
<circle cx="304.36" cy="532.1" r="1.35" class="o"/>
<line x1="327.56" y1="485.2" x2="327.56" y2="507" class="w"/>
<line x1="327.56" y1="525.8" x2="327.56" y2="554.9" class="w"/>
<rect x="317.26" y="507" width="20.6" height="18.8" fill="#E64B35" class="b"/>
<line x1="317.26" y1="514.8" x2="337.86" y2="514.8" class="m"/>
<circle cx="327.56" cy="555.8" r="1.35" class="o"/>
<circle cx="327.56" cy="557.3" r="1.35" class="o"/>
<circle cx="327.56" cy="558.8" r="1.35" class="o"/>
<circle cx="327.56" cy="560.8" r="1.35" class="o"/>
<circle cx="327.56" cy="563.4" r="1.35" class="o"/>
<circle cx="327.56" cy="567.3" r="1.35" class="o"/>
<path d="M304.36 485.1V481.3H327.56V485.1" class="br"/>
<text x="315.96" y="479.5" class="sig" text-anchor="middle">ns</text>
<line x1="362.44" y1="487.6" x2="362.44" y2="494.3" class="w"/>
<line x1="362.44" y1="501.2" x2="362.44" y2="505.7" class="w"/>
<rect x="352.14" y="494.3" width="20.6" height="6.9" fill="#4DBBD5" class="b"/>
<rect x="352.64" y="500" width="19.6" height="0.7" fill="#1f5d6b" opacity="0.85"/>
<line x1="352.14" y1="500" x2="372.74" y2="500" class="m"/>
<line x1="385.64" y1="467.9" x2="385.64" y2="487" class="w"/>
<line x1="385.64" y1="499" x2="385.64" y2="519.9" class="w"/>
<rect x="375.34" y="487" width="20.6" height="12" fill="#E64B35" class="b"/>
<line x1="375.34" y1="494.2" x2="395.94" y2="494.2" class="m"/>
<circle cx="385.64" cy="452.5" r="1.35" class="o"/>
<circle cx="385.64" cy="458.3" r="1.35" class="o"/>
<circle cx="385.64" cy="460.5" r="1.35" class="o"/>
<circle cx="385.64" cy="462.5" r="1.35" class="o"/>
<circle cx="385.64" cy="464.5" r="1.35" class="o"/>
<circle cx="385.64" cy="466" r="1.35" class="o"/>
<circle cx="385.64" cy="467.1" r="1.35" class="o"/>
<circle cx="385.64" cy="520.6" r="1.35" class="o"/>
<circle cx="385.64" cy="522" r="1.35" class="o"/>
<circle cx="385.64" cy="523.3" r="1.35" class="o"/>
<circle cx="385.64" cy="524.3" r="1.35" class="o"/>
<circle cx="385.64" cy="527.7" r="1.35" class="o"/>
<path d="M362.44 451.5V447.7H385.64V451.5" class="br"/>
<text x="374.04" y="447.3" class="sig st" text-anchor="middle">***</text>
<line x1="420.52" y1="490.2" x2="420.52" y2="497.9" class="w"/>
<line x1="420.52" y1="504.2" x2="420.52" y2="513.7" class="w"/>
<rect x="410.22" y="497.9" width="20.6" height="6.3" fill="#4DBBD5" class="b"/>
<line x1="410.22" y1="501.6" x2="430.82" y2="501.6" class="m"/>
<line x1="443.72" y1="479.9" x2="443.72" y2="494.8" class="w"/>
<line x1="443.72" y1="505.1" x2="443.72" y2="521" class="w"/>
<rect x="433.42" y="494.8" width="20.6" height="10.3" fill="#E64B35" class="b"/>
<line x1="433.42" y1="499.2" x2="454.02" y2="499.2" class="m"/>
<circle cx="443.72" cy="468.9" r="1.35" class="o"/>
<circle cx="443.72" cy="473.8" r="1.35" class="o"/>
<circle cx="443.72" cy="521.7" r="1.35" class="o"/>
<circle cx="443.72" cy="523.2" r="1.35" class="o"/>
<circle cx="443.72" cy="524.7" r="1.35" class="o"/>
<circle cx="443.72" cy="527" r="1.35" class="o"/>
<circle cx="443.72" cy="529" r="1.35" class="o"/>
<circle cx="443.72" cy="531.2" r="1.35" class="o"/>
<circle cx="443.72" cy="535.6" r="1.35" class="o"/>
<path d="M420.52 468.3V464.5H443.72V468.3" class="br"/>
<text x="432.12" y="462.7" class="sig" text-anchor="middle">ns</text>
<line x1="478.6" y1="519.6" x2="478.6" y2="528.7" class="w"/>
<line x1="478.6" y1="537.5" x2="478.6" y2="547.3" class="w"/>
<rect x="468.3" y="528.7" width="20.6" height="8.8" fill="#4DBBD5" class="b"/>
<line x1="468.3" y1="532.4" x2="488.9" y2="532.4" class="m"/>
<line x1="501.8" y1="511.9" x2="501.8" y2="534" class="w"/>
<line x1="501.8" y1="549.4" x2="501.8" y2="573.6" class="w"/>
<rect x="491.5" y="534" width="20.6" height="15.4" fill="#E64B35" class="b"/>
<line x1="491.5" y1="540.6" x2="512.1" y2="540.6" class="m"/>
<circle cx="501.8" cy="578" r="1.35" class="o"/>
<path d="M478.6 510.4V506.6H501.8V510.4" class="br"/>
<text x="490.2" y="506.2" class="sig st" text-anchor="middle">***</text>
<line x1="536.68" y1="495.2" x2="536.68" y2="511.2" class="w"/>
<line x1="536.68" y1="522.2" x2="536.68" y2="533.3" class="w"/>
<rect x="526.38" y="511.2" width="20.6" height="11" fill="#4DBBD5" class="b"/>
<line x1="526.38" y1="517" x2="546.98" y2="517" class="m"/>
<line x1="559.88" y1="490.3" x2="559.88" y2="522.4" class="w"/>
<line x1="559.88" y1="544.7" x2="559.88" y2="578.8" class="w"/>
<rect x="549.58" y="522.4" width="20.6" height="22.3" fill="#E64B35" class="b"/>
<line x1="549.58" y1="533.6" x2="570.18" y2="533.6" class="m"/>
<circle cx="559.88" cy="437.9" r="1.35" class="o"/>
<circle cx="559.88" cy="464.4" r="1.35" class="o"/>
<circle cx="559.88" cy="470.8" r="1.35" class="o"/>
<circle cx="559.88" cy="474.5" r="1.35" class="o"/>
<circle cx="559.88" cy="478.2" r="1.35" class="o"/>
<circle cx="559.88" cy="481.3" r="1.35" class="o"/>
<circle cx="559.88" cy="484.5" r="1.35" class="o"/>
<circle cx="559.88" cy="486" r="1.35" class="o"/>
<circle cx="559.88" cy="487.7" r="1.35" class="o"/>
<circle cx="559.88" cy="579.7" r="1.35" class="o"/>
<path d="M536.68 436.8V433H559.88V436.8" class="br"/>
<text x="548.28" y="432.6" class="sig st" text-anchor="middle">***</text>
<line x1="594.76" y1="537.7" x2="594.76" y2="562" class="w"/>
<line x1="594.76" y1="581.1" x2="594.76" y2="588" class="w"/>
<rect x="584.46" y="562" width="20.6" height="19.1" fill="#4DBBD5" class="b"/>
<line x1="584.46" y1="570.7" x2="605.06" y2="570.7" class="m"/>
<line x1="617.96" y1="431.3" x2="617.96" y2="492.7" class="w"/>
<line x1="617.96" y1="548.9" x2="617.96" y2="585.7" class="w"/>
<rect x="607.66" y="492.7" width="20.6" height="56.2" fill="#E64B35" class="b"/>
<line x1="607.66" y1="529" x2="628.26" y2="529" class="m"/>
<path d="M594.76 431.2V427.4H617.96V431.2" class="br"/>
<text x="606.36" y="427" class="sig st" text-anchor="middle">***</text>
<text x="58.28" y="438.6" class="title" textLength="145.8" lengthAdjust="spacingAndGlyphs">Endometrial cancer</text>
<text x="3.8" y="425.4" class="letter">C</text>
<text transform="translate(14.5 507.75) rotate(-90) scale(0.94 1)" class="yl" text-anchor="middle">The expression levels</text>
<text transform="translate(23.6 539) rotate(-90) scale(0.94 1)" class="yl">Log<tspan font-size="7.8" dy="3.0">2</tspan><tspan dy="-3.0"> (TPM+1)</tspan></text>
<line x1="649.5" y1="484.1" x2="649.5" y2="492.7" class="w"/>
<rect x="645.8" y="485.7" width="7.5" height="5.4" fill="#4DBBD5" class="b"/>
<line x1="645.8" y1="488.4" x2="653.3" y2="488.4" class="lm"/>
<text x="658.5" y="491.1" class="lg">Normal</text>
<line x1="649.5" y1="494.05" x2="649.5" y2="502.65" class="w"/>
<rect x="645.8" y="495.65" width="7.5" height="5.4" fill="#E64B35" class="b"/>
<line x1="645.8" y1="498.35" x2="653.3" y2="498.35" class="lm"/>
<text x="658.5" y="501.05" class="lg">Tumor</text>
</svg></body></html>
